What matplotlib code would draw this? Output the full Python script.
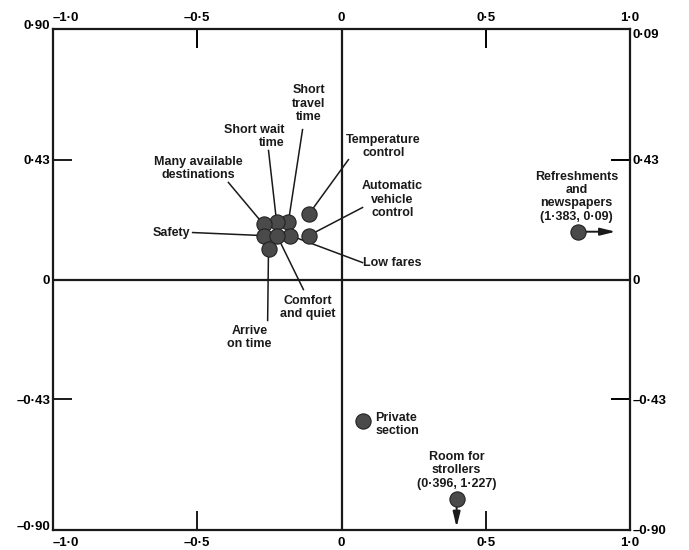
import matplotlib.pyplot as plt

plt.rcParams['font.family'] = ['Liberation Sans', 'DejaVu Sans']

# attribute positions
names = ['Short\ntravel\ntime', 'Short wait\ntime', 'Many available\ndestinations',
         'Safety', 'Temperature\ncontrol', 'Automatic\nvehicle\ncontrol',
         'Low fares', 'Comfort\nand quiet', 'Arrive\non time',
         'Refreshments\nand\nnewspapers\n(1\u00b7383, 0\u00b709)',
         'Private\nsection', 'Room for\nstrollers\n(0\u00b7396, 1\u00b7227)']
xs = [-0.184, -0.225, -0.270, -0.270, -0.114, -0.114, -0.177, -0.222, -0.253,
      0.821, 0.076, 0.399]
ys = [0.208, 0.208, 0.198, 0.158, 0.234, 0.158, 0.158, 0.155, 0.111,
      0.172, -0.510, -0.790]

xticks = [-1.0, -0.5, 0, 0.5, 1.0]
xticklabels = ['\u20131\u00b70', '\u20130\u00b75', '0', '0\u00b75', '1\u00b70']
yticks = [0.90, 0.43, 0, -0.43, -0.90]
left_labels = ['0\u00b790', '0\u00b743', '0', '\u20130\u00b743', '\u20130\u00b790']
right_labels = ['0\u00b709', '0\u00b743', '0', '\u20130\u00b743', '\u20130\u00b790']

# label layout: (text x, text y, ha, leader start or None)
layout = [
    (-0.114, 0.632, 'center', (-0.135, 0.539)),
    (-0.198, 0.514, 'right', (-0.253, 0.464)),
    (-0.496, 0.399, 'center', (-0.392, 0.349)),
    (-0.523, 0.169, 'right', (-0.516, 0.169)),
    (0.146, 0.478, 'center', (0.024, 0.431)),
    (0.177, 0.287, 'center', (0.073, 0.259)),
    (0.075, 0.061, 'left', (0.073, 0.061)),
    (-0.118, -0.101, 'center', (-0.132, -0.036)),
    (-0.319, -0.208, 'center', (-0.256, -0.147)),
    (0.815, 0.298, 'center', None),
    (0.118, -0.521, 'left', None),
    (0.399, -0.686, 'center', None),
]

fig = plt.figure(figsize=(6.89, 5.5), dpi=100)
ax = fig.add_axes([0.0769, 0.0364, 0.8375, 0.9106])
ax.set_xlim(-1, 1)
ax.set_ylim(-0.9, 0.9)

for s in ax.spines.values():
    s.set_linewidth(1.6)
    s.set_color('#1a1a1a')
ax.axhline(0, color='#1a1a1a', lw=1.6, zorder=1)
ax.axvline(0, color='#1a1a1a', lw=1.6, zorder=1)

tick_font = dict(fontsize=9.5, fontweight='bold')
ax.set_xticks(xticks)
ax.set_xticklabels(xticklabels, **tick_font)
ax.set_yticks(yticks)
ax.set_yticklabels(left_labels, **tick_font)
ax.tick_params(direction='in', length=14, width=1.4, color='#1a1a1a')
ax.tick_params(axis='x', pad=5)
ax.tick_params(axis='y', pad=2)
ax.get_xticklabels()[0].set_ha('left')
ax.get_yticklabels()[0].set_va('baseline')
ax.get_yticklabels()[-1].set_va('baseline')

top = ax.secondary_xaxis('top')
top.set_xticks(xticks)
top.set_xticklabels(xticklabels, **tick_font)
top.tick_params(direction='in', length=14, width=1.4, pad=4)
top.get_xticklabels()[0].set_ha('left')
right = ax.secondary_yaxis('right')
right.set_yticks(yticks)
right.set_yticklabels(right_labels, **tick_font)
right.tick_params(direction='in', length=14, width=1.4, pad=2)
right.get_yticklabels()[0].set_va('top')
for sa in (top, right):
    sa.spines[:].set_visible(False)

# leader lines
for (tx, ty, ha, lead), x, y in zip(layout, xs, ys):
    if lead is not None:
        ax.plot([lead[0], x], [lead[1], y], color='#1a1a1a', lw=1.1, zorder=2)

ax.scatter(xs, ys, s=120, color='#4a4a4a', edgecolor='#222222', lw=0.8, zorder=4)

for (tx, ty, ha, lead), name in zip(layout, names):
    ax.text(tx, ty, name, ha=ha, va='center', multialignment=ha,
            fontsize=9, fontweight='bold', color='#1a1a1a', linespacing=1.15, zorder=5)

# off-scale arrows
arrow = dict(arrowstyle='-|>,head_length=0.9,head_width=0.22', color='#1a1a1a',
             lw=1.4, shrinkA=5, shrinkB=0)
ax.annotate('', xy=(0.95, ys[9]), xytext=(xs[9], ys[9]), arrowprops=arrow, zorder=3)
ax.annotate('', xy=(xs[11], -0.89), xytext=(xs[11], ys[11]), arrowprops=arrow, zorder=3)

fig.savefig('out.png', dpi=100)
